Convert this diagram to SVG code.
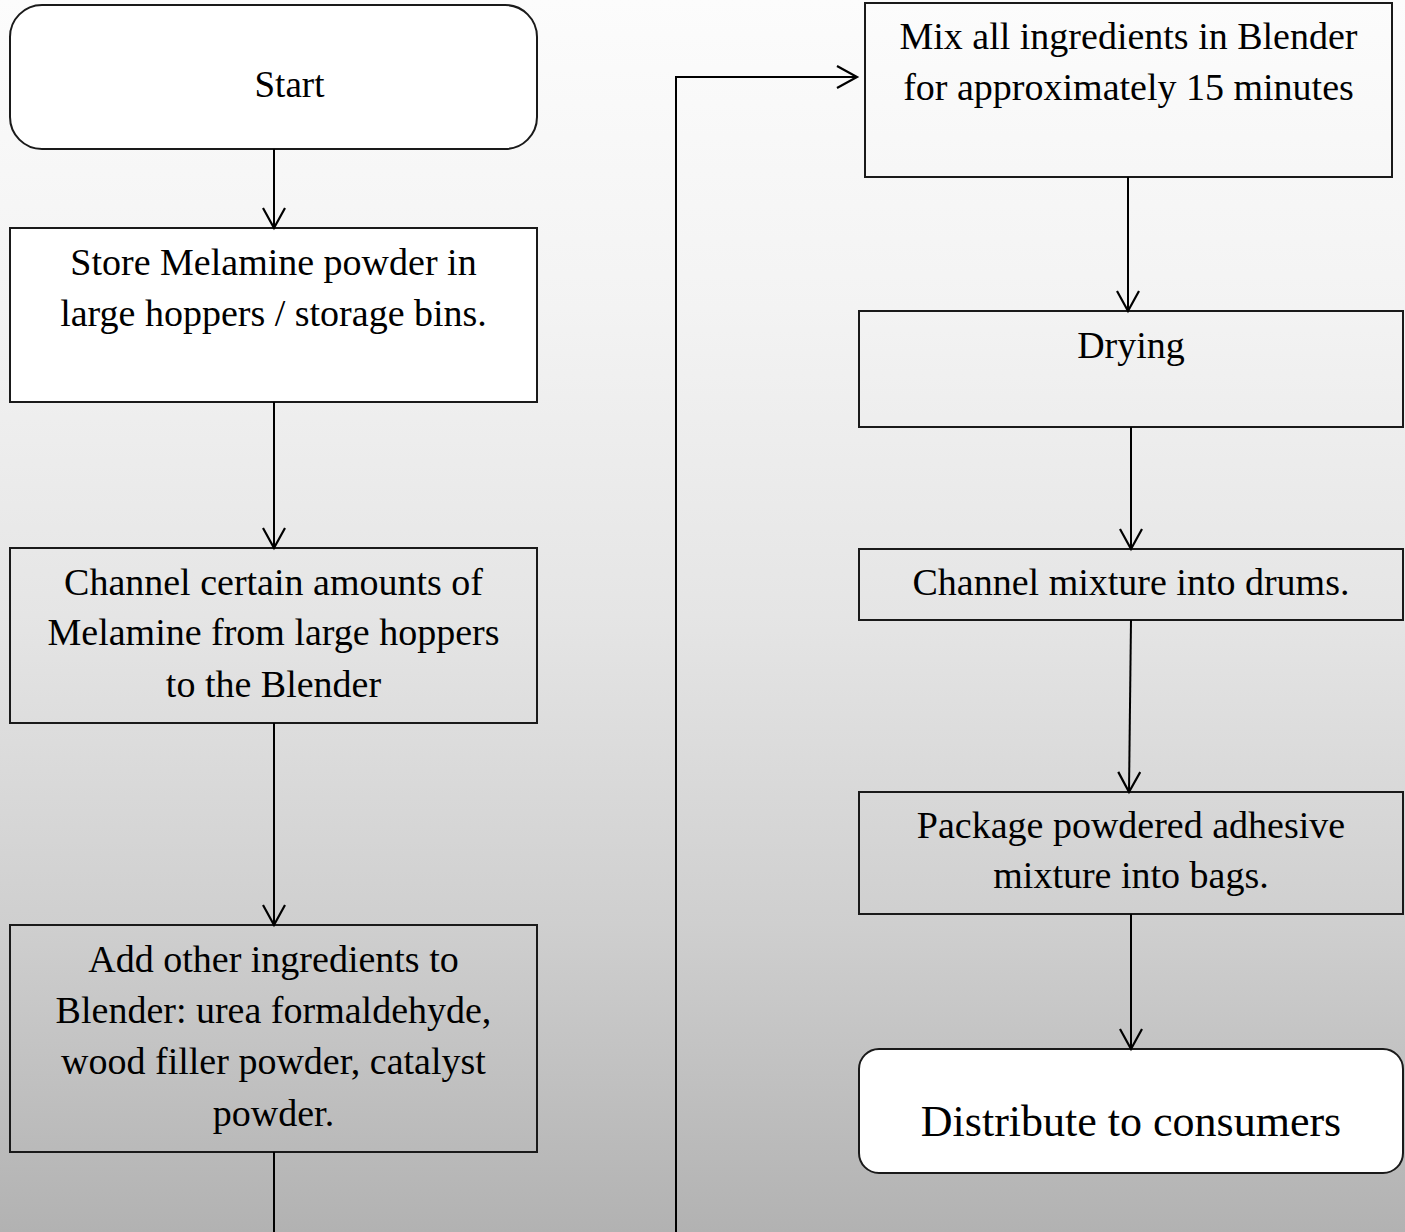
<svg xmlns="http://www.w3.org/2000/svg" width="1405" height="1232" viewBox="0 0 1405 1232">
<defs>
<linearGradient id="bg" x1="0" y1="0" x2="0" y2="1">
<stop offset="0" stop-color="#fcfcfc"/>
<stop offset="0.25" stop-color="#f3f3f3"/>
<stop offset="0.5" stop-color="#e5e5e5"/>
<stop offset="0.75" stop-color="#cfcfcf"/>
<stop offset="1" stop-color="#b2b2b2"/>
</linearGradient>
<marker id="arr" viewBox="0 0 26 26" refX="22" refY="12" markerWidth="26" markerHeight="26" markerUnits="userSpaceOnUse" orient="auto">
<path d="M2,1 L22,12 L2,23" fill="none" stroke="#000" stroke-width="2.2"/>
</marker>
</defs>
<style>
.box{fill:none;stroke:#1a1a1a;stroke-width:2}
.white{fill:#fff}
.t{font-family:"Liberation Serif","Times New Roman",serif;font-size:38px;fill:#000;text-anchor:middle}
.c{fill:none;stroke:#000;stroke-width:2}
</style>
<rect width="1405" height="1232" fill="url(#bg)"/>
<g id="start">
<rect class="box white" x="10" y="5" width="527" height="144" rx="32"/>
<text class="t" x="289.5" y="97" style="font-size:37px">Start</text>
</g>
<g id="store">
<rect class="box white" x="10" y="228" width="527" height="174"/>
<text class="t" x="273.5" y="275">Store Melamine powder in</text>
<text class="t" x="273.5" y="326">large hoppers / storage bins.</text>
</g>
<g id="channel">
<rect class="box" x="10" y="548" width="527" height="175"/>
<text class="t" x="273.5" y="595">Channel certain amounts of</text>
<text class="t" x="273.5" y="645">Melamine from large hoppers</text>
<text class="t" x="273.5" y="697">to the Blender</text>
</g>
<g id="add">
<rect class="box" x="10" y="925" width="527" height="227"/>
<text class="t" x="273.5" y="972">Add other ingredients to</text>
<text class="t" x="273.5" y="1023">Blender: urea formaldehyde,</text>
<text class="t" x="273.5" y="1074">wood filler powder, catalyst</text>
<text class="t" x="273.5" y="1126">powder.</text>
</g>
<g id="mix">
<rect class="box" x="865" y="3" width="527" height="174"/>
<text class="t" x="1128.5" y="49">Mix all ingredients in Blender</text>
<text class="t" x="1128.5" y="100">for approximately 15 minutes</text>
</g>
<g id="drying">
<rect class="box" x="859" y="311" width="544" height="116"/>
<text class="t" x="1131" y="358">Drying</text>
</g>
<g id="drums">
<rect class="box" x="859" y="549" width="544" height="71"/>
<text class="t" x="1131" y="595">Channel mixture into drums.</text>
</g>
<g id="package">
<rect class="box" x="859" y="792" width="544" height="122"/>
<text class="t" x="1131" y="838">Package powdered adhesive</text>
<text class="t" x="1131" y="888">mixture into bags.</text>
</g>
<g id="distribute">
<rect class="box white" x="859" y="1049" width="544" height="124" rx="20"/>
<text class="t" x="1131" y="1136" style="font-size:44px">Distribute to consumers</text>
</g>
<g id="connectors">
<line class="c" x1="274" y1="149" x2="274" y2="228" marker-end="url(#arr)"/>
<line class="c" x1="274" y1="402" x2="274" y2="548" marker-end="url(#arr)"/>
<line class="c" x1="274" y1="723" x2="274" y2="925" marker-end="url(#arr)"/>
<line class="c" x1="274" y1="1152" x2="274" y2="1233"/>
<polyline class="c" points="676,1233 676,77 857,77" marker-end="url(#arr)"/>
<line class="c" x1="1128" y1="177" x2="1128" y2="311" marker-end="url(#arr)"/>
<line class="c" x1="1131" y1="427" x2="1131" y2="549" marker-end="url(#arr)"/>
<line class="c" x1="1131" y1="620" x2="1129" y2="792" marker-end="url(#arr)"/>
<line class="c" x1="1131" y1="914" x2="1131" y2="1049" marker-end="url(#arr)"/>
</g>
</svg>
